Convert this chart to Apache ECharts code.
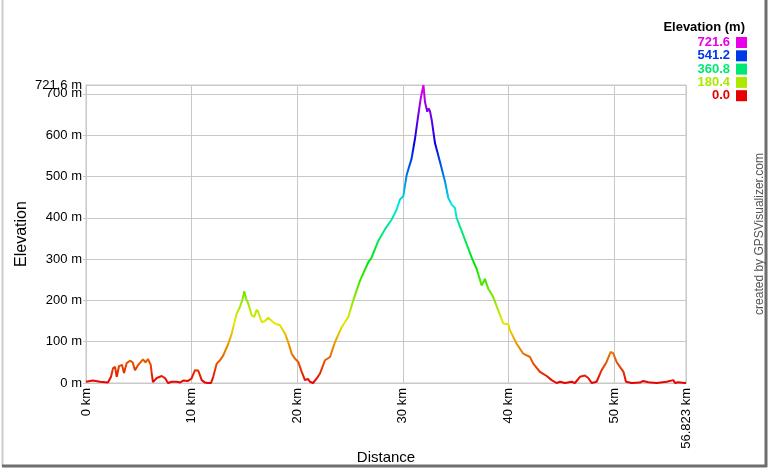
<!DOCTYPE html>
<html>
<head>
    <meta charset="utf-8"/>
    <title>Elevation profile</title>
    <script src="https://cdn.jsdelivr.net/npm/echarts@6/dist/echarts.min.js"></script>
    <style>
        html, body { margin: 0; padding: 0; background: #fff; }
        #main { width: 774px; height: 473px; }
    </style>
</head>
<body>
<div id="main"></div>
<script>
    // distance along the track (km)
    var distKm = [0, 0.38, 0.66, 1.33, 2.08, 2.37, 2.56, 2.75, 2.91, 3.13, 3.41, 3.6, 3.85, 4.17, 4.42, 4.64, 4.95,
        5.4, 5.63, 5.87, 6.13, 6.22, 6.34, 6.7, 7.17, 7.48, 7.77, 8.11, 8.59, 8.9, 9.21, 9.66, 10.0, 10.32, 10.63,
        10.96, 11.27, 11.55, 11.84, 12.05, 12.38, 12.69, 13.0, 13.48, 13.8, 13.95, 14.27, 14.58, 14.84, 14.99,
        15.15, 15.37, 15.69, 15.94, 16.16, 16.31, 16.64, 16.95, 17.26, 17.59, 17.9, 18.37, 18.84, 19.15, 19.48,
        19.79, 20.1, 20.43, 20.74, 21.02, 21.21, 21.5, 21.85, 22.16, 22.63, 23.11, 23.58, 24.21, 24.84, 25.31,
        25.95, 26.73, 27.05, 27.68, 28.31, 28.95, 29.42, 29.73, 30.05, 30.37, 30.84, 31.16, 31.47, 31.7, 31.89,
        31.96, 32.1, 32.32, 32.45, 32.58, 32.74, 33.05, 33.52, 34.0, 34.31, 34.63, 34.94, 35.1, 35.58, 36.05,
        36.52, 37.0, 37.47, 37.78, 38.1, 38.57, 39.04, 39.52, 39.99, 40.15, 40.79, 41.41, 42.05, 42.36, 42.99,
        43.63, 44.1, 44.57, 44.89, 45.36, 45.99, 46.31, 46.78, 47.25, 47.57, 47.89, 48.36, 48.83, 49.3, 49.68,
        49.93, 50.25, 50.57, 50.9, 51.14, 51.68, 52.46, 52.77, 53.25, 54.04, 54.99, 55.62, 55.78, 56.09, 56.72,
        56.823];
    // elevation at each point (m)
    var elevM = [3, 5, 6, 3, 1, 15, 36, 39, 15, 41, 44, 24, 48, 54, 50, 31, 44,
        57, 50, 58, 44, 24, 2, 12, 17, 12, 0, 3, 3, 1, 6, 5, 11, 31, 30,
        7, 1, 0, 0, 15, 47, 55, 67, 95, 120, 135, 168, 184, 204, 222,
        205, 192, 164, 160, 177, 172, 147, 150, 158, 150, 144, 140, 120, 99, 71,
        59, 51, 27, 7, 10, 3, 0, 11, 23, 55, 63, 99, 135, 160, 200,
        248, 292, 304, 344, 372, 396, 420, 444, 452, 504, 544, 592, 649, 689, 713,
        721.6, 681, 657, 665, 658, 637, 581, 536, 488, 448, 432, 424, 400, 368, 336,
        304, 276, 236, 252, 228, 208, 176, 144, 142, 128, 95, 71, 63, 47, 27,
        17, 7, 0, 3, 0, 3, 0, 15, 18, 12, 0, 3, 31, 51, 75,
        72, 51, 39, 27, 3, 0, 1, 5, 2, 0, 3, 7, 0, 2, 0,
        1];

    var maxDist = 56.823;
    var maxElev = 721.6;
    // legend values, top to bottom
    var legendValues = [721.6, 541.2, 360.8, 180.4, 0.0];
    // hue ramp red -> yellow -> green -> cyan -> blue -> magenta
    var rampColors = ['#e80000', '#e8e800', '#00e800', '#00e8e8', '#0000e8', '#e800e8'];

    var lineData = [];
    for (var i = 0; i < distKm.length; i++) {
        lineData.push([distKm[i], elevM[i]]);
    }

    // colour of a value on the ramp (same interpolation as visualMap)
    function rampColor(v) {
        var t = v / maxElev * (rampColors.length - 1);
        var k = Math.min(Math.floor(t), rampColors.length - 2);
        var f = t - k;
        var a = echarts.color.parse(rampColors[k]);
        var b = echarts.color.parse(rampColors[k + 1]);
        var c = [];
        for (var j = 0; j < 3; j++) {
            c.push(Math.round(a[j] + (b[j] - a[j]) * f));
        }
        return 'rgb(' + c.join(',') + ')';
    }

    var graphics = [
        // frame
        {type: 'line', shape: {x1: 2.5, y1: 0, x2: 2.5, y2: 466}, style: {stroke: '#cccccc', lineWidth: 2}, silent: true},
        {type: 'line', shape: {x1: 766, y1: 0, x2: 766, y2: 467}, style: {stroke: '#6e6e6e', lineWidth: 3}, silent: true},
        {type: 'line', shape: {x1: 2, y1: 466, x2: 767, y2: 466}, style: {stroke: '#6e6e6e', lineWidth: 3}, silent: true},
        // legend title
        {
            type: 'text', right: 29, top: 21,
            style: {text: 'Elevation (m)', font: 'bold 13px "Liberation Sans", Arial, sans-serif', fill: '#000'}
        },
        // credit
        {
            type: 'text', x: 760, y: 234, rotation: Math.PI / 2,
            style: {
                text: 'created by GPSVisualizer.com', font: '12px "Liberation Sans", Arial, sans-serif',
                fill: '#555', align: 'center', verticalAlign: 'middle'
            }
        }
    ];
    for (var n = 0; n < legendValues.length; n++) {
        var col = rampColor(legendValues[n]);
        var yy = 42.5 + n * 13.3;
        graphics.push({
            type: 'text', x: 730, y: yy,
            style: {
                text: legendValues[n].toFixed(1), font: 'bold 13px "Liberation Sans", Arial, sans-serif',
                fill: col, align: 'right', verticalAlign: 'middle'
            }
        });
        graphics.push({
            type: 'rect', shape: {x: 736, y: yy - 5.5, width: 11, height: 11},
            style: {fill: col}
        });
    }

    var yLabelFmt = function (v) { return v + ' m'; };

    var myChart = echarts.init(document.getElementById('main'), null, {renderer: 'canvas'});
    var option = {
        animation: false,
        backgroundColor: '#ffffff',
        textStyle: {fontFamily: '"Liberation Sans", Arial, sans-serif'},
        grid: {
            left: 86, right: 88, top: 85, bottom: 90,
            show: true, borderColor: '#c8c8c8', borderWidth: 1,
            containLabel: false
        },
        visualMap: {
            show: false,
            type: 'continuous',
            dimension: 1,
            seriesIndex: 0,
            min: 0,
            max: maxElev,
            inRange: {color: rampColors}
        },
        xAxis: {
            type: 'value',
            min: 0,
            max: maxDist,
            interval: 10,
            name: 'Distance',
            nameLocation: 'middle',
            nameGap: 67,
            nameMoveOverlap: false,
            nameTextStyle: {fontSize: 15, color: '#000'},
            axisLine: {show: true, lineStyle: {color: '#c8c8c8'}},
            axisTick: {show: false},
            axisLabel: {
                rotate: 90, margin: 5, fontSize: 13, color: '#000',
                showMaxLabel: true,
                formatter: function (v) { return v + ' km'; }
            },
            splitLine: {show: true, lineStyle: {color: '#c8c8c8', width: 1}}
        },
        yAxis: [{
            // main axis: 0 .. 700 m labels, grid lines
            type: 'value',
            min: 0,
            max: maxElev,
            interval: 100,
            name: 'Elevation',
            nameLocation: 'middle',
            nameGap: 56,
            nameTextStyle: {fontSize: 16, color: '#000'},
            axisLine: {show: true, lineStyle: {color: '#c8c8c8'}},
            axisTick: {show: true, length: 3, lineStyle: {color: '#c8c8c8'}},
            axisLabel: {
                margin: 4, fontSize: 13, color: '#000',
                showMaxLabel: false,
                formatter: yLabelFmt
            },
            splitLine: {show: true, lineStyle: {color: '#c8c8c8', width: 1}}
        }, {
            // extra axis only for the top "721.6 m" label
            type: 'value',
            position: 'left',
            min: 0,
            max: maxElev,
            interval: maxElev,
            axisLine: {show: false},
            axisTick: {show: false},
            splitLine: {show: false},
            axisLabel: {
                margin: 4, fontSize: 13, color: '#000',
                showMinLabel: false, showMaxLabel: true,
                formatter: yLabelFmt
            }
        }],
        series: [{
            type: 'line',
            data: lineData,
            yAxisIndex: 0,
            showSymbol: false,
            symbol: 'none',
            lineStyle: {width: 2}
        }],
        graphic: graphics
    };
    myChart.setOption(option);

    window.onresize = function () {
        myChart.resize();
    };
</script>
</body>
</html>
